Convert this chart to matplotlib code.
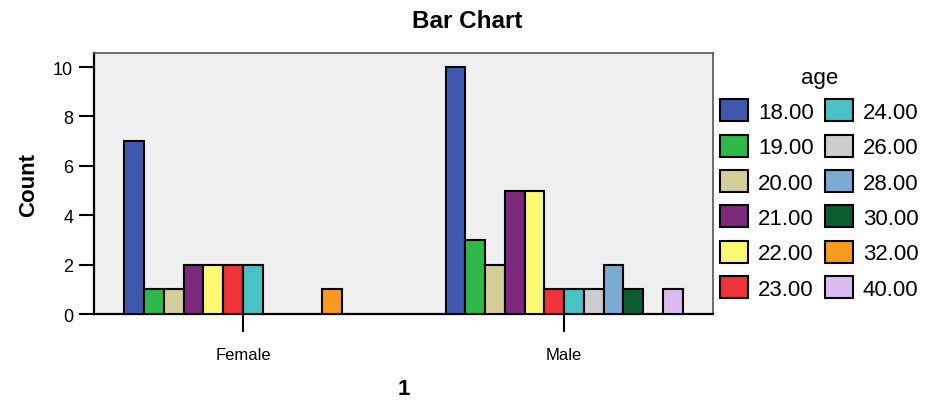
import numpy as np
import matplotlib
matplotlib.use("Agg")
import matplotlib.pyplot as plt
from matplotlib.patches import Patch

plt.rcParams['font.family'] = ['Liberation Sans', 'DejaVu Sans']

groups = ["Female", "Male"]
ages = ["18.00", "19.00", "20.00", "21.00", "22.00", "23.00",
        "24.00", "26.00", "28.00", "30.00", "32.00", "40.00"]
female_counts = [7, 1, 1, 2, 2, 2, 2, 0, 0, 0, 1, 0]
male_counts = [10, 3, 2, 5, 5, 1, 1, 1, 2, 1, 0, 1]
colors = ["#3E58AC", "#2EB848", "#D3CE97", "#7B287D", "#FBF873", "#EF3338",
          "#48C2C5", "#CCCCCC", "#7BAAD3", "#0B5C2F", "#F89A1F", "#DDB9F2"]

fig = plt.figure(figsize=(9.36, 4.06), dpi=100)
ax = fig.add_axes([0.1004, 0.2241, 0.6614, 0.6429])
ax.set_facecolor("#EFEFEF")

counts = np.array([female_counts, male_counts])
x = np.arange(len(groups))
group_w = 0.738
w = group_w / len(ages)
for i, age in enumerate(ages):
    offs = (i - (len(ages) - 1) / 2) * w
    vals = counts[:, i]
    mask = vals > 0
    ax.bar(x[mask] + offs, vals[mask], width=w, color=colors[i],
           edgecolor="black", linewidth=1.5, zorder=3)

ax.set_xlim(-0.464, 1.464)
ax.set_ylim(0, 10.57)
ax.set_yticks([0, 2, 4, 6, 8, 10])
ax.set_xticks(x)
ax.set_xticklabels(groups, fontsize=12)
ax.tick_params(axis="y", direction="out", length=11, width=1.5, labelsize=13, pad=4)
ax.tick_params(axis="x", direction="out", length=13, width=1.5, pad=11)

for s in ["left", "bottom"]:
    ax.spines[s].set_linewidth(1.6)
    ax.spines[s].set_color("black")
for s in ["top", "right"]:
    ax.spines[s].set_linewidth(1.2)
    ax.spines[s].set_color("#555555")

ax.set_ylabel("Count", fontsize=16, fontweight="bold", labelpad=10)
fig.text(0.4316, 0.04, "1", fontsize=16, fontweight="bold", ha="center", va="center")
fig.text(0.499, 0.948, "Bar Chart", fontsize=17.5, fontweight="bold", ha="center", va="center")

handles = [Patch(facecolor=c, edgecolor="black", linewidth=1.5) for c in colors]
leg = fig.legend(handles, ages, title="age", ncol=2, loc="upper left",
                 bbox_to_anchor=(0.753, 0.872), frameon=False, fontsize=16,
                 title_fontsize=16, handlelength=1.25, handleheight=1.15,
                 handletextpad=0.45, labelspacing=0.53, columnspacing=0.5,
                 borderpad=0.2)

fig.savefig("out.png", dpi=100)
